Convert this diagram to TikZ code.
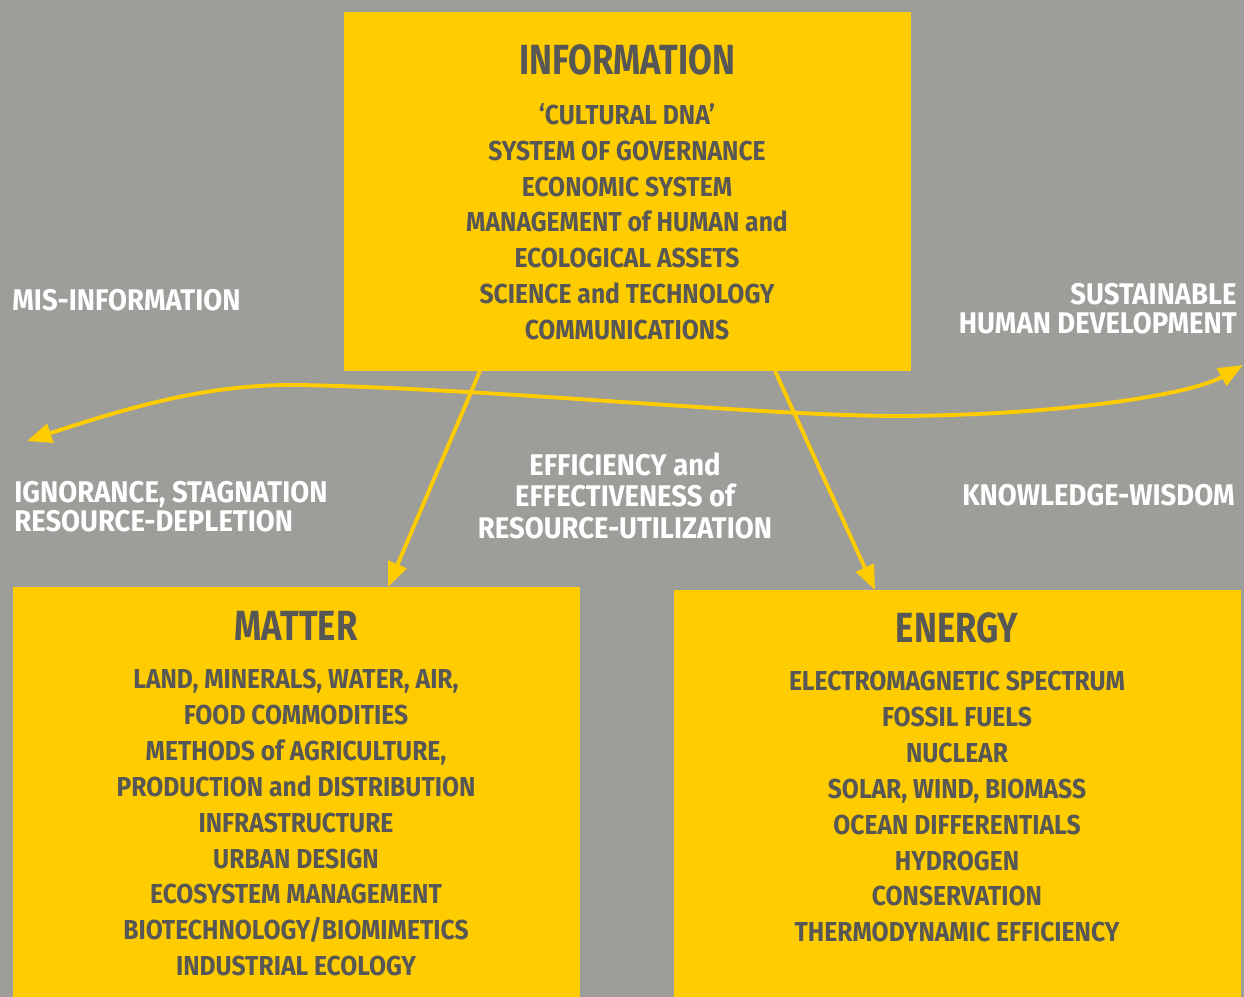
\documentclass[tikz,border=0pt]{standalone}
\usepackage{fontspec}
\setmainfont{Fira Sans}[FakeStretch=0.9]
\newfontfamily\headfont{Fira Sans}[FakeStretch=0.82]
\newfontfamily\notefont{Fira Sans}[FakeStretch=0.92]
\usetikzlibrary{positioning,arrows.meta}
\definecolor{bggray}{RGB}{157,157,154}
\definecolor{boxyellow}{RGB}{255,204,0}
\definecolor{inkgray}{RGB}{87,87,86}

\begin{document}
\begin{tikzpicture}[x=0.02cm,y=-0.02cm,
    box/.style={fill=boxyellow, inner sep=0, anchor=north west, minimum width=11.34cm},
    boxtitle/.style={text=inkgray, font=\headfont\bfseries\fontsize{24}{24}\selectfont, anchor=base, inner sep=0},
    boxtext/.style={text=inkgray, font=\bfseries\fontsize{15.6}{20.4}\selectfont, align=center, anchor=north, inner sep=0},
    note/.style={text=white, font=\notefont\bfseries\fontsize{17}{16.4}\selectfont, inner sep=0},
    flow/.style={boxyellow, line width=2.2pt, -{Triangle[length=14pt,width=11pt]}}]
        % background
        \fill[bggray] (0,0) rectangle (1244,997);
        \useasboundingbox (0,0) rectangle (1244,997);

        % the three boxes
        \node[box, minimum height=7.18cm] (info) at (344,12) {};
        \node[box, minimum height=8.2cm] (matter) at (13,587) {};
        \node[box, minimum height=8.14cm] (energy) at (674,590) {};

        \node[boxtitle] (infotitle) at (627,75) {INFORMATION};
        \node[boxtext] (infotext) at (627,103) {‘CULTURAL DNA’\\SYSTEM OF GOVERNANCE\\ECONOMIC SYSTEM\\MANAGEMENT of HUMAN and\\ECOLOGICAL ASSETS\\SCIENCE and TECHNOLOGY\\COMMUNICATIONS};

        \node[boxtitle] (mattertitle) at (296,640) {MATTER};
        \node[boxtext] (mattertext) at (296,669) {LAND, MINERALS, WATER, AIR,\\FOOD COMMODITIES\\METHODS of AGRICULTURE,\\PRODUCTION and DISTRIBUTION\\INFRASTRUCTURE\\URBAN DESIGN\\ECOSYSTEM MANAGEMENT\\BIOTECHNOLOGY/BIOMIMETICS\\INDUSTRIAL ECOLOGY};

        \node[boxtitle] (energytitle) at (957,642) {ENERGY};
        \node[boxtext] (energytext) at (957,671) {ELECTROMAGNETIC SPECTRUM\\FOSSIL FUELS\\NUCLEAR\\SOLAR, WIND, BIOMASS\\OCEAN DIFFERENTIALS\\HYDROGEN\\CONSERVATION\\THERMODYNAMIC EFFICIENCY};

        % labels on the grey
        \node[note, anchor=base west] (misinfo) at (12,310) {MIS-INFORMATION};
        \node[note, anchor=north east, align=right] (sustain) at (1237,283) {SUSTAINABLE\\HUMAN DEVELOPMENT};
        \node[note, anchor=north west, align=left] (ignorance) at (14,481) {IGNORANCE, STAGNATION\\RESOURCE-DEPLETION};
        \node[note, anchor=north, align=center, font=\notefont\bfseries\fontsize{17}{18.1}\selectfont] (efficiency) at (625,452) {EFFICIENCY and\\EFFECTIVENESS of\\RESOURCE-UTILIZATION};
        \node[note, anchor=base east] (wisdom) at (1235,505) {KNOWLEDGE-WISDOM};

        % arrows
        \coordinate (infoleft) at (480,371);
        \coordinate (inforight) at (775,371);
        \coordinate (lostend) at (27,441);
        \coordinate (goodend) at (1243,365);
        \draw[flow] (infoleft) -- (matter.north west -| 388,0);
        \draw[flow] (inforight) -- (energy.north west -| 875,0);
        \draw[flow, {Triangle[length=14pt,width=11pt]}-{Triangle[length=14pt,width=11pt]}] (lostend) .. controls (150,400) and (220,384) .. (300,385) .. controls (500,389) and (760,416) .. (900,416) .. controls (1060,415) and (1190,395) .. (goodend);
\end{tikzpicture}
\end{document}
